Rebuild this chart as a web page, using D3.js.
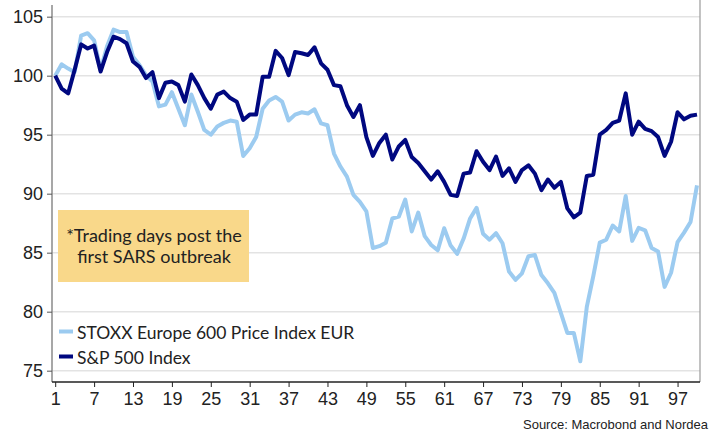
<!DOCTYPE html>
<html><head><meta charset="utf-8">
<script src="https://cdn.jsdelivr.net/npm/d3@7/dist/d3.min.js"></script>
<style>
html,body{margin:0;padding:0;background:#fff;}
svg{display:block;}
</style></head>
<body>
<svg id="chart" width="715" height="439"></svg>
<script>
const days = d3.range(1, 101);
const xTicks = [1, 7, 13, 19, 25, 31, 37, 43, 49, 55, 61, 67, 73, 79, 85, 91, 97];
const yTicks = [75, 80, 85, 90, 95, 100, 105];
const stoxx = [100, 100.96, 100.6, 100.3, 103.4, 103.6, 103.0, 100.5, 102.5, 103.9,
  103.7, 103.7, 101.6, 100.9, 100.05, 99.5, 97.4, 97.55, 98.6, 97.2,
  95.8, 98.4, 96.95, 95.4, 95.0, 95.7, 96.0, 96.2, 96.1, 93.2,
  93.85, 94.8, 97.2, 97.9, 98.2, 97.8, 96.2, 96.7, 96.9, 96.8,
  97.15, 95.96, 95.8, 93.4, 92.3, 91.45, 89.9, 89.3, 88.5, 85.4,
  85.55, 85.85, 87.9, 88.05, 89.5, 86.8, 88.4, 86.4, 85.65, 85.2,
  87.07, 85.6, 84.9, 86.2, 87.9, 88.8, 86.6, 86.1, 86.65, 85.8,
  83.4, 82.7, 83.25, 84.7, 84.8, 83.1, 82.4, 81.6, 79.9, 78.2,
  78.2, 75.8, 80.4, 83.0, 85.85, 86.1, 87.3, 86.8, 89.8, 86.0,
  87.1, 86.9, 85.4, 85.1, 82.1, 83.3, 85.9, 86.7, 87.6, 90.7];
const sp500 = [100, 98.9, 98.5, 100.5, 102.65, 102.3, 102.55, 100.35, 102.0, 103.3,
  103.1, 102.75, 101.2, 100.75, 99.8, 100.3, 98.1, 99.4, 99.5, 99.2,
  97.8, 100.1, 99.2, 98.1, 97.2, 98.4, 98.65, 98.1, 97.8, 96.25,
  96.7, 96.7, 99.9, 99.9, 102.1, 101.5, 100.05, 102.0, 101.9, 101.75,
  102.4, 101.05, 100.5, 99.2, 99.1, 97.5, 96.5, 97.5, 94.8, 93.2,
  94.3, 95.0, 92.9, 94.0, 94.55, 93.1, 92.6, 91.9, 91.2, 91.9,
  91.0, 89.9, 89.8, 91.7, 91.8, 93.6, 92.7, 92.0, 93.15, 91.5,
  92.15, 91.0, 92.0, 92.4, 91.7, 90.3, 91.2, 90.5, 91.0, 88.75,
  88.0, 88.4, 91.5, 91.6, 95.0, 95.4, 96.0, 96.2, 98.5, 95.0,
  96.1, 95.5, 95.3, 94.8, 93.2, 94.4, 96.9, 96.3, 96.6, 96.7];
const seriesNames = ["STOXX Europe 600 Price Index EUR", "S&P 500 Index"];
const seriesColors = ["#9ccbf0", "#000880"];
const noteLines = ["*Trading days post the", "first SARS outbreak"];
const sourceText = "Source: Macrobond and Nordea";

const svg = d3.select("#chart");
const L = 52, R = 700, T = 5, B = 382;
const x = d3.scaleLinear().domain([1, 100]).range([55.2, 697]);
const y = d3.scaleLinear().domain([74.04, 105.99]).range([B, T]);
const tickFont = "'Liberation Sans Narrow','Arial Narrow',sans-serif";
const textFont = "Lato,'Liberation Sans',sans-serif";

// gridlines
svg.append("g").selectAll("line").data(yTicks).join("line")
  .attr("x1", L).attr("x2", R)
  .attr("y1", d => y(d)).attr("y2", d => y(d))
  .attr("stroke", "#e3e3e3").attr("stroke-width", 1.5);

// right border
svg.append("line").attr("x1", R).attr("x2", R).attr("y1", 0).attr("y2", B)
  .attr("stroke", "#9a9a9a").attr("stroke-width", 1.2);

// y axis
const yAxis = svg.append("g").attr("transform", `translate(${L},0)`)
  .call(d3.axisLeft(y).tickValues(yTicks).tickSize(5).tickPadding(4).tickFormat(d3.format("d")));
yAxis.select(".domain").attr("stroke", "#8a8a8a").attr("stroke-width", 1.5).attr("d", `M0,${T}V${B}`);
yAxis.selectAll(".tick line").attr("stroke", "#555");
yAxis.selectAll("text").attr("font-family", tickFont).attr("font-size", 18).attr("fill", "#222");

// x axis
const xAxis = svg.append("g").attr("transform", `translate(0,${B})`)
  .call(d3.axisBottom(x).tickValues(xTicks).tickSize(5).tickPadding(5).tickFormat(d3.format("d")));
xAxis.select(".domain").attr("stroke", "#222").attr("stroke-width", 1.5).attr("d", `M${L},0H${R}`);
xAxis.selectAll(".tick line").attr("stroke", "#222");
xAxis.selectAll("text").attr("font-family", tickFont).attr("font-size", 18).attr("fill", "#222");

// lines
const line = d3.line().x((d, i) => x(days[i])).y(d => y(d));
[stoxx, sp500].forEach((s, k) => {
  svg.append("path").datum(s).attr("d", line)
    .attr("fill", "none").attr("stroke", seriesColors[k])
    .attr("stroke-width", 4).attr("stroke-linejoin", "round");
});

// note box
const note = svg.append("g");
note.append("rect").attr("x", 58).attr("y", 210).attr("width", 191).attr("height", 72)
  .attr("fill", "#f9d88a");
note.selectAll("text").data(noteLines).join("text")
  .attr("x", 154).attr("y", (d, i) => 242 + i * 21)
  .attr("text-anchor", "middle").attr("font-family", textFont).attr("font-size", 18)
  .attr("fill", "#222").text(d => d);

// legend
const leg = svg.append("g");
seriesNames.forEach((n, i) => {
  const cy = 331.5 + i * 25;
  leg.append("rect").attr("x", 59).attr("y", cy - 2).attr("width", 14).attr("height", 4)
    .attr("fill", seriesColors[i]);
  leg.append("text").attr("x", 77).attr("y", cy + 7).attr("font-family", textFont)
    .attr("font-size", 17.5).attr("fill", "#222").text(n);
});

// source
svg.append("text").attr("x", 708).attr("y", 429).attr("text-anchor", "end")
  .attr("font-family", tickFont).attr("font-size", 13).attr("fill", "#222").text(sourceText);
</script>
</body></html>
